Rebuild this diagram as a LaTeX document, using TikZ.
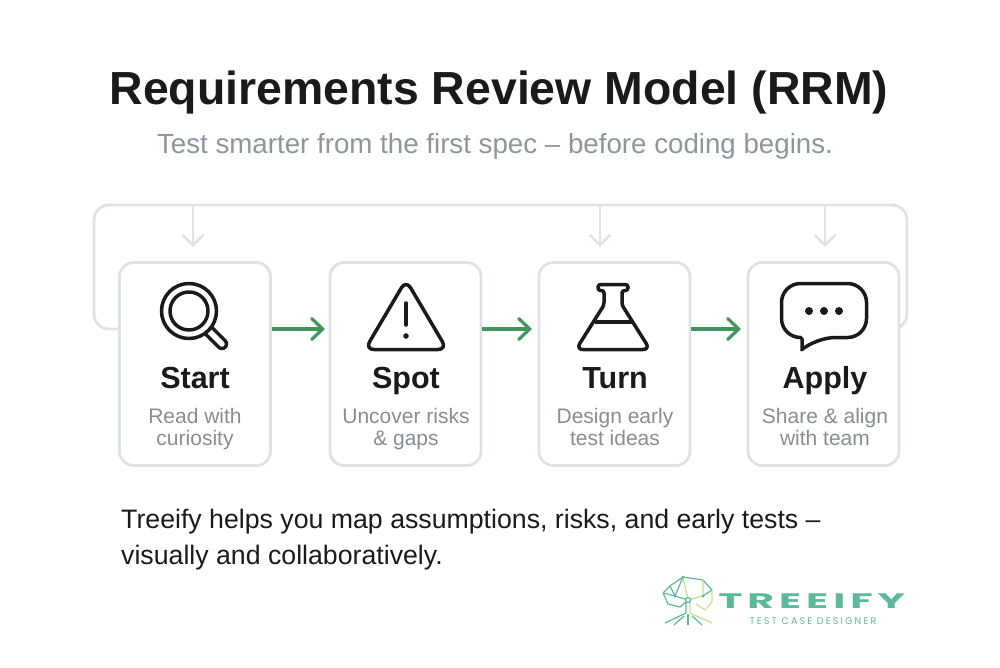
\documentclass[tikz,border=0pt]{standalone}
\usepackage{fontspec}
\usetikzlibrary{arrows.meta}
\setmainfont{Liberation Sans}
\newfontfamily\logofont[LetterSpace=12]{Poppins}
\newfontfamily\logosmall[LetterSpace=22]{Poppins}
\definecolor{cardline}{HTML}{DCE2E5}
\definecolor{flowgreen}{HTML}{43935F}
\definecolor{softgray}{HTML}{878E93}
\definecolor{subgray}{HTML}{8C969C}
\definecolor{inkblack}{HTML}{1A1A1A}
\definecolor{logoteal}{HTML}{5DB99B}
\definecolor{logolime}{HTML}{BFE385}

\begin{document}
\begin{tikzpicture}[x=1pt,y=-1pt,
		card/.style={draw=cardline,line width=2.8pt,fill=white,rounded corners=14pt,minimum width=151pt,minimum height=203pt,inner sep=0pt},
		cardtitle/.style={anchor=base,inner sep=0pt,text=inkblack,font=\fontsize{30.5}{36}\selectfont\bfseries},
		carddesc/.style={inner sep=0pt,align=center,text=softgray,font=\fontsize{21}{22.5}\selectfont,execute at end node={\vphantom{gy}}},
		flow/.style={draw=flowgreen,line width=3.2pt,-{Straight Barb[length=11pt,width=21pt,line cap=round]}},
		feedback/.style={draw=cardline,line width=2.8pt,rounded corners=15pt},
		feeddown/.style={draw=cardline,line width=2.5pt,-{Straight Barb[length=10pt,width=20pt,line cap=round]}},
		icon/.style={draw=inkblack,line width=3.5pt,line join=round,line cap=round},
		logoline/.style={draw=logoteal,line width=1.2pt},
		limeline/.style={draw=logolime,line width=1.2pt}]
	\useasboundingbox (0,0) rectangle (1000,667);
	\node[anchor=base,inner sep=0pt,text=inkblack,font=\fontsize{46.4}{54}\selectfont\bfseries] (title) at (499,104) {Requirements Review Model (RRM)};
	\node[anchor=base,inner sep=0pt,text=subgray,font=\fontsize{27.7}{32}\selectfont] (subtitle) at (495,153) {Test smarter from the first spec -- before coding begins.};
	% feedback line behind the cards
	\coordinate (loopl) at (119,329);
	\coordinate (loopr) at (899,329);
	\coordinate (downa) at (193,205);
	\coordinate (downb) at (600,205);
	\coordinate (downc) at (825,205);
	\coordinate (tipa) at (193,247);
	\coordinate (tipb) at (600,247);
	\coordinate (tipc) at (825,247);
	\draw[feedback] (loopl) -| (94,205) -- (907,205) |- (loopr);
	\draw[feeddown] (downa) to (tipa);
	\draw[feeddown] (downb) to (tipb);
	\draw[feeddown] (downc) to (tipc);
	% cards
	\node[card] (start) at (195,364) {};
	\node[card] (spot) at (405.5,364) {};
	\node[card] (turn) at (614.5,364) {};
	\node[card] (apply) at (823.5,364) {};
	\coordinate (tipspot) at (325,329);
	\coordinate (tipturn) at (532,329);
	\coordinate (tipapply) at (741,329);
	\draw[flow] (start.east |- tipspot) to (tipspot);
	\draw[flow] (spot.east |- tipturn) to (tipturn);
	\draw[flow] (turn.east |- tipapply) to (tipapply);
	% card texts
	\node[cardtitle] (starttitle) at (195,388) {Start};
	\node[cardtitle] (spottitle) at (406,388) {Spot};
	\node[cardtitle] (turntitle) at (615,388) {Turn};
	\node[cardtitle] (applytitle) at (825,388) {Apply};
	\node[carddesc] (startdesc) at (195,429) {Read with\\curiosity};
	\node[carddesc] (spotdesc) at (406,429) {Uncover risks\\\& gaps};
	\node[carddesc] (turndesc) at (615,429) {Design early\\test ideas};
	\node[carddesc] (applydesc) at (825,429) {Share \& align\\with team};
	% magnifier
	\draw[inkblack,line width=12.5pt,line cap=round] (209,331) -- (222,344);
	\draw[white,line width=5.5pt,line cap=round] (209,331) -- (222,344);
	\draw[icon,fill=white] (189,311) circle (27.5);
	\draw[icon] (189,311) circle (19);
	% warning triangle
	\draw[icon,rounded corners=9pt] (406,280) -- (447,349.5) -- (365,349.5) -- cycle;
	\draw[icon] (406,303) -- (406,325);
	\fill[inkblack] (406,336) circle (2.8);
	% flask
	\draw[icon,rounded corners=2.5pt] (613,284.5) -- (628,284.5) -- (628,290.5) -- (622,290.5) -- (622,305)
		[rounded corners=7pt] -- (650,349.5) -- (576,349.5) [rounded corners=2.5pt] -- (604,305) -- (604,290.5) -- (598,290.5) -- (598,284.5) -- cycle;
	\draw[icon,line cap=butt] (595,322) -- (632,322);
	% speech bubble
	\draw[icon,rounded corners=19pt] (824,283.5) -- (866.5,283.5) -- (866.5,337.5) -- (816,337.5)
		[rounded corners=1.5pt] -- (802,349.5) -- (802,337.5) [rounded corners=19pt] -- (781.5,337.5) -- (781.5,283.5) -- cycle;
	\fill[inkblack] (809,311) circle (4);
	\fill[inkblack] (824,311) circle (4);
	\fill[inkblack] (839,311) circle (4);
	% closing note
	\node[anchor=west,inner sep=0pt,align=left,text=inkblack,font=\fontsize{26.7}{36}\selectfont] (note) at (121,540) {Treeify helps you map assumptions, risks, and early tests --\\visually and collaboratively.};
	% logo
	\draw[logoline] (663,593) -- (670,586) -- (683,577) -- (703,580) -- (712,590);
	\draw[limeline] (712,590) -- (712,602) -- (705,610) -- (696,604);
	\draw[logoline] (663,593) -- (668,604) -- (680,607) -- (688,600) -- (675,596) -- (663,593);
	\draw[logoline] (683,577) -- (675,596) -- (670,586);
	\draw[limeline] (683,577) -- (688,600) -- (703,596) -- (703,580);
	\draw[logoline] (703,596) -- (712,590);
	\draw[logoline] (686,601) -- (686,613) -- (665,623);
	\draw[limeline] (690,601) -- (690,613) -- (712,623);
	\draw[logoline] (688,614) -- (688,625);
	\draw[logoline] (684,616) -- (674,625);
	\draw[logoline] (692,616) -- (702,625);
	\draw[logoline,fill=white] (688,600) circle (2.5);
	\fill[logoteal] (675,596) circle (1.6);
	\fill[logoteal] (703,596) circle (1.6);
	\fill[logoteal] (683,577) circle (1.3);
	\node[anchor=base west,inner sep=0pt,text=logoteal,xscale=1.95,font=\fontsize{21}{21}\selectfont\logofont\bfseries] (logotext) at (718,608.5) {TREEIFY};
	\node[anchor=base,inner sep=0pt,text=logoteal,font=\fontsize{9.6}{10}\selectfont\logosmall] (logosub) at (813,624) {TEST CASE DESIGNER};
\end{tikzpicture}
\end{document}
